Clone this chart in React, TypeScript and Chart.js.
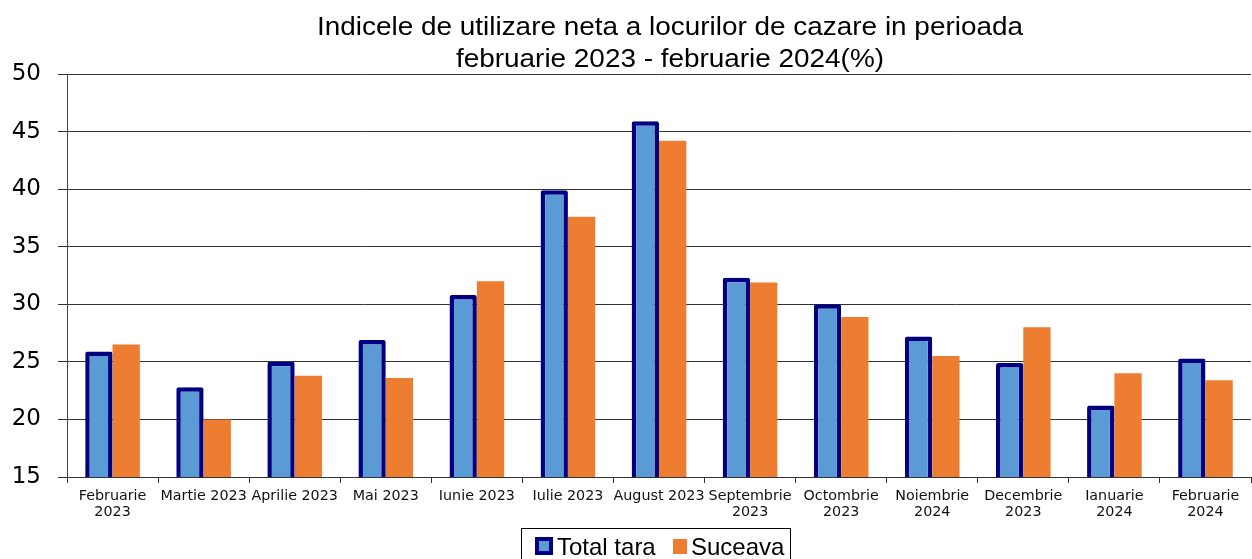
import { useEffect, useRef } from "react";
import { Chart, registerables } from "chart.js";

Chart.register(...registerables);

const titleLines = [
  "Indicele de utilizare neta a locurilor de cazare in perioada",
  "februarie 2023 - februarie 2024(%)",
];

const categories: (string | string[])[] = [
  ["Februarie", "2023"],
  "Martie 2023",
  "Aprilie 2023",
  "Mai 2023",
  "Iunie 2023",
  "Iulie 2023",
  "August 2023",
  ["Septembrie", "2023"],
  ["Octombrie", "2023"],
  ["Noiembrie", "2024"],
  ["Decembrie", "2023"],
  ["Ianuarie", "2024"],
  ["Februarie", "2024"],
];

const totalTara = [25.9, 22.8, 25.0, 26.9, 30.8, 39.9, 45.9, 32.3, 30.0, 27.2, 24.9, 21.2, 25.3];
const suceava = [26.5, 20.0, 23.8, 23.6, 32.0, 37.6, 44.2, 31.9, 28.9, 25.5, 28.0, 24.0, 23.4];

const yMin = 15;
const yMax = 50;
const yStep = 5;

const FONT = "'Liberation Sans', Arial, sans-serif";
const WIDE = "'DejaVu Sans', sans-serif";

const overlayPlugin = {
  id: "overlay",
  afterDraw(chart: any) {
    const ctx = chart.ctx as CanvasRenderingContext2D;
    ctx.save();
    // Title (drawn slightly stretched horizontally like the reference)
    ctx.fillStyle = "#000";
    ctx.font = `26px ${FONT}`;
    ctx.textAlign = "center";
    ctx.textBaseline = "alphabetic";
    const targetW = [706, 428];
    titleLines.forEach((line, i) => {
      const w = ctx.measureText(line).width;
      const sx = targetW[i] / w;
      ctx.save();
      ctx.translate(670, 35 + i * 31.5);
      ctx.scale(sx, 1);
      ctx.fillText(line, 0, 0);
      ctx.restore();
    });

    // Legend
    const ds = chart.data.datasets;
    ctx.font = `24px ${FONT}`;
    ctx.textAlign = "left";
    ctx.textBaseline = "alphabetic";
    const boxX = 521;
    const boxY = 528;
    const boxW = 269;
    const boxH = 40;
    ctx.strokeStyle = "#000";
    ctx.lineWidth = 1;
    ctx.strokeRect(boxX + 0.5, boxY + 0.5, boxW, boxH);
    const base = 555;
    // item 1
    ctx.fillStyle = ds[0].borderColor;
    ctx.fillRect(535, 537, 18, 18);
    ctx.fillStyle = ds[0].backgroundColor;
    ctx.fillRect(539, 541, 10, 10);
    ctx.fillStyle = "#000";
    ctx.fillText(ds[0].label, 557, base);
    // item 2
    ctx.fillStyle = ds[1].backgroundColor;
    ctx.fillRect(673, 539, 14, 15);
    ctx.fillStyle = "#000";
    ctx.fillText(ds[1].label, 691, base);
    ctx.restore();
  },
};

export default function App() {
  const canvasRef = useRef<HTMLCanvasElement>(null);

  useEffect(() => {
    document.body.style.margin = "0";
    const chart = new Chart(canvasRef.current as HTMLCanvasElement, {
      type: "bar",
      data: {
        labels: categories,
        datasets: [
          {
            label: "Total tara",
            data: totalTara,
            backgroundColor: "#5B9BD5",
            borderColor: "#000080",
            borderWidth: 4.5,
            borderSkipped: false,
            borderRadius: 2,
            categoryPercentage: 0.6,
            barPercentage: 1.0,
          },
          {
            label: "Suceava",
            data: suceava,
            backgroundColor: "#ED7D31",
            borderWidth: 0,
            categoryPercentage: 0.6,
            barPercentage: 1.0,
          },
        ],
      },
      options: {
        animation: false,
        responsive: false,
        maintainAspectRatio: false,
        layout: { padding: { top: 74, left: 0, right: 1, bottom: 0 } },
        plugins: {
          legend: { display: false },
          title: { display: false },
          tooltip: { enabled: false },
        },
        scales: {
          x: {
            grid: {
              drawOnChartArea: false,
              drawTicks: true,
              tickLength: 6,
              color: "#333",
              offset: true,
            },
            border: { color: "#333", width: 1 },
            ticks: {
              color: "#111",
              font: { family: WIDE, size: 14.3, lineHeight: 1.12 },
              padding: 5,
              maxRotation: 0,
              autoSkip: false,
            },
            afterFit(scale: any) {
              scale.height = 82;
            },
          },
          y: {
            min: yMin,
            max: yMax,
            grid: {
              color: "#333",
              drawTicks: true,
              tickLength: 9,
            },
            border: { color: "#444", width: 1 },
            ticks: {
              stepSize: yStep,
              color: "#000",
              font: { family: WIDE, size: 23 },
              padding: 17,
            },
            afterFit(scale: any) {
              scale.width = 67;
            },
          },
        },
      },
      plugins: [overlayPlugin],
    });
    return () => chart.destroy();
  }, []);

  return (
    <div style={{ width: 1252, height: 559 }}>
      <canvas ref={canvasRef} width={1252} height={559} style={{ display: "block" }} />
    </div>
  );
}
